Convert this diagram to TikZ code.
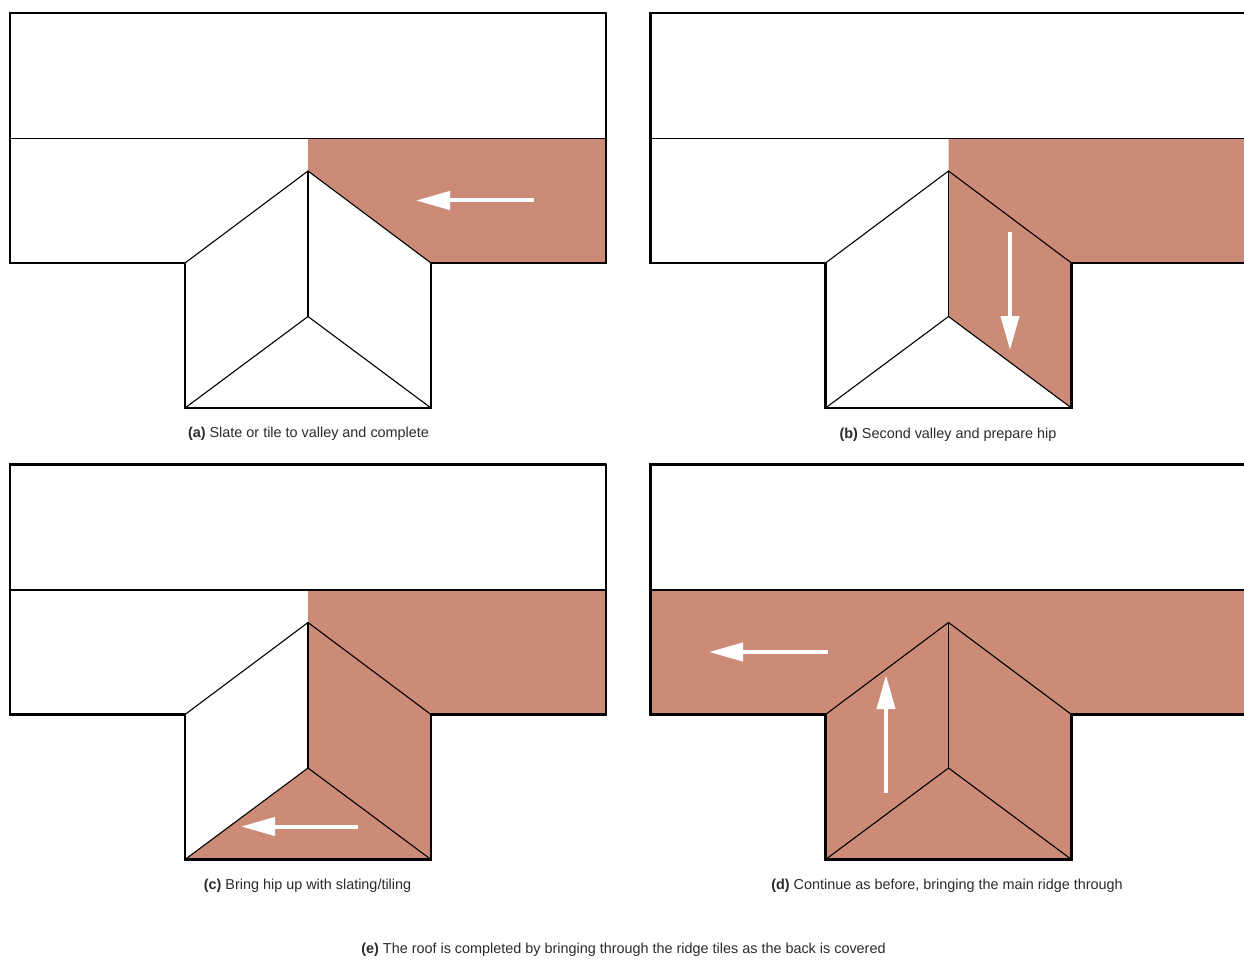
\documentclass[tikz,border=0pt]{standalone}
\usepackage{fontspec}
\setmainfont{Liberation Sans}
\usetikzlibrary{arrows.meta}
\definecolor{tile}{HTML}{CB8B76}
\definecolor{captxt}{HTML}{2B2B2B}
\tikzset{
  thin line/.style={line width=1.1pt,black,line cap=round,line join=round},
  outer line/.style={line width=2.3pt,black,line cap=round,line join=miter},
  tiled/.style={fill=tile,draw=none},
  work arrow/.style={line width=4pt,white,-{Triangle[length=34pt,width=18pt]}},
  caption/.style={text=captxt,font=\fontsize{14.4pt}{17pt}\selectfont,inner sep=0pt,anchor=center}
}
% #1 = x of the left edge, #2 = y of the top edge, #3 = x of the right edge, #4 = prefix, #5 = fills
\newcommand{\roofpanel}[4]{%
  \begin{scope}[shift={(#1,#2)}]
    \coordinate (#4tl) at (0,0);
    \coordinate (#4tr) at (#3,0);
    \coordinate (#4ml) at (0,125.5);
    \coordinate (#4mr) at (#3,125.5);
    \coordinate (#4bl) at (0,250);
    \coordinate (#4br) at (#3,250);
    \coordinate (#4nl) at (175,250);
    \coordinate (#4nr) at (421,250);
    \coordinate (#4fl) at (175,395);
    \coordinate (#4fr) at (421,395);
    \coordinate (#4ap) at (298,158);
    \coordinate (#4hp) at (298,303.5);
    \coordinate (#4tp) at (298,125.5);
  \end{scope}}
\newcommand{\roofdraw}[1]{%
  \draw[thin line] (#1ml) -- (#1mr);
  \draw[thin line] (#1nl) -- (#1ap) -- (#1nr);
  \draw[thin line] (#1ap) -- (#1hp);
  \draw[thin line] (#1fl) -- (#1hp) -- (#1fr);
  \draw[outer line] (#1tr) -- (#1tl) -- (#1bl) -- (#1nl) -- (#1fl) -- (#1fr) -- (#1nr) -- (#1br) -- (#1tr);}
\begin{document}
\begin{tikzpicture}[x=1pt,y=-1pt]
\useasboundingbox (0,0) rectangle (1244,960);
\clip (0,0) rectangle (1244,960);
\fill[white] (0,0) rectangle (1244,960);
\roofpanel{10}{13}{596}{a}
\roofpanel{650.5}{13}{640}{b}
\roofpanel{10}{464.5}{596}{c}
\roofpanel{650.5}{464.5}{640}{d}
% (a)
\fill[tiled] (atp) -- (amr) -- (abr) -- (anr) -- (aap) -- cycle;
\roofdraw{a}
\coordinate (a1) at (533.5,200.5);
\coordinate (a2) at (416,200.5);
\draw[work arrow] (a1) -- (a2);
\node[caption] (capa) at (308.5,433.5) {\textbf{(a)} Slate or tile to valley and complete};
% (b)
\fill[tiled] (btp) -- (bmr) -- (bbr) -- (bnr) -- (bfr) -- (bhp) -- (bap) -- cycle;
\roofdraw{b}
\coordinate (b1) at (1010,232);
\coordinate (b2) at (1010,350);
\draw[work arrow] (b1) -- (b2);
\node[caption] (capb) at (948,434.5) {\textbf{(b)} Second valley and prepare hip};
% (c)
\fill[tiled] (ctp) -- (cmr) -- (cbr) -- (cnr) -- (cfr) -- (cfl) -- (chp) -- (cap) -- cycle;
\roofdraw{c}
\coordinate (c1) at (358,826.5);
\coordinate (c2) at (241,826.5);
\draw[work arrow] (c1) -- (c2);
\node[caption] (capc) at (307.5,885.5) {\textbf{(c)} Bring hip up with slating/tiling};
% (d)
\fill[tiled] (dml) -- (dmr) -- (dbr) -- (dnr) -- (dfr) -- (dfl) -- (dnl) -- (dbl) -- cycle;
\roofdraw{d}
\coordinate (d1) at (827.5,652);
\coordinate (d2) at (709,652);
\coordinate (d3) at (886,792.5);
\coordinate (d4) at (886,675);
\draw[work arrow] (d1) -- (d2);
\draw[work arrow] (d3) -- (d4);
\node[caption] (capd) at (947,885.5) {\textbf{(d)} Continue as before, bringing the main ridge through};
% (e)
\node[caption] (cape) at (623.5,949.5) {\textbf{(e)} The roof is completed by bringing through the ridge tiles as the back is covered};
\end{tikzpicture}
\end{document}
